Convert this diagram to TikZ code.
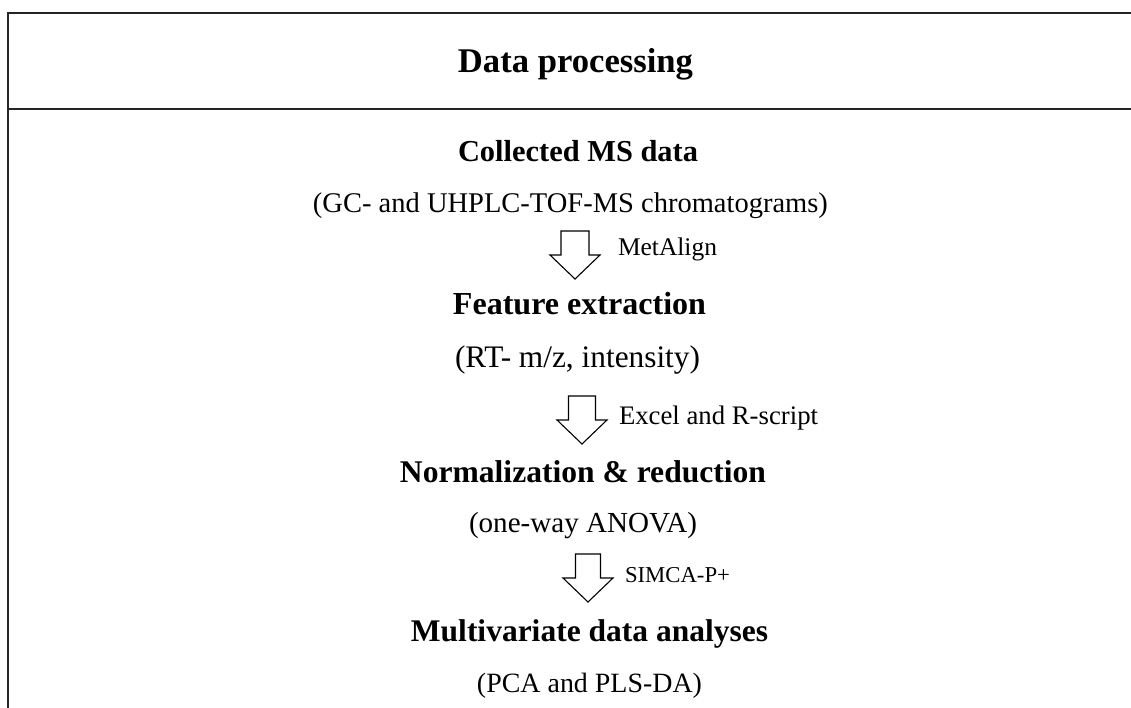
\documentclass[tikz,border=0pt]{standalone}
\usepackage{fontspec}
\usepackage{graphicx}
\setmainfont{Liberation Serif}
% set a text at a given width (pt), keeping its proportions
\newcommand\fitw[2]{\resizebox{#1pt}{!}{#2}}
% hollow down arrow: tip x, top y, half shaft width, head base y
\newcommand\hollowarrow[4]{%
  \draw[blockarrow] (#1-#3,#2) -- (#1-#3,#4) -- (#1-25,#4) -- (#1,#4+24)
    -- (#1+25,#4) -- (#1+#3,#4) -- (#1+#3,#2) -- cycle;}
\begin{document}
\begin{tikzpicture}[x=1pt,y=-1pt,
  txt/.style={inner sep=0pt,outer sep=0pt,anchor=base},
  lbl/.style={inner sep=0pt,outer sep=0pt,anchor=base west},
  rule/.style={line width=2pt,black!85},
  blockarrow/.style={draw=black,line width=1.1pt,line join=miter,fill=white}]
  \useasboundingbox (0,0) rectangle (1131,708);

  % frame of the panel
  \coordinate (tl) at (8,13);
  \coordinate (tr) at (1131,13);
  \coordinate (ml) at (8,109);
  \coordinate (mr) at (1131,109);
  \coordinate (bl) at (8,708);
  \draw[rule] (tr) -- (tl) -- (bl);
  \draw[rule] (ml) -- (mr);

  % heading
  \node[txt] (title) at (575.5,73) {\fitw{235}{\bfseries Data processing}};

  % workflow steps
  \node[txt] (s1) at (578,162) {\fitw{240}{\bfseries Collected MS data}};
  \node[txt] (s1n) at (570.5,213) {\fitw{515}{(GC- and UHPLC-TOF-MS chromatograms)}};
  \node[txt] (s2) at (579.5,315) {\fitw{253}{\bfseries Feature extraction}};
  \node[txt] (s2n) at (577.5,367) {\fitw{245}{(RT- m/z, intensity)}};
  \node[txt] (s3) at (583,482) {\fitw{366}{\bfseries Normalization \& reduction}};
  \node[txt] (s3n) at (583,532) {\fitw{228}{(one-way ANOVA)}};
  \node[txt] (s4) at (589.5,641) {\fitw{357}{\bfseries Multivariate data analyses}};
  \node[txt] (s4n) at (589.5,692) {\fitw{225}{(PCA and PLS-DA)}};

  % hollow arrows between the steps
  \hollowarrow{575}{231}{14}{255}
  \hollowarrow{582}{396}{13.5}{420}
  \hollowarrow{588}{554}{12.5}{578}

  % tools used for each step
  \node[lbl] (t1) at (618,256) {\fitw{99}{MetAlign}};
  \node[lbl] (t2) at (619,424) {\fitw{199}{Excel and R-script}};
  \node[lbl] (t3) at (625,582) {\fitw{105}{SIMCA-P+}};
\end{tikzpicture}
\end{document}
